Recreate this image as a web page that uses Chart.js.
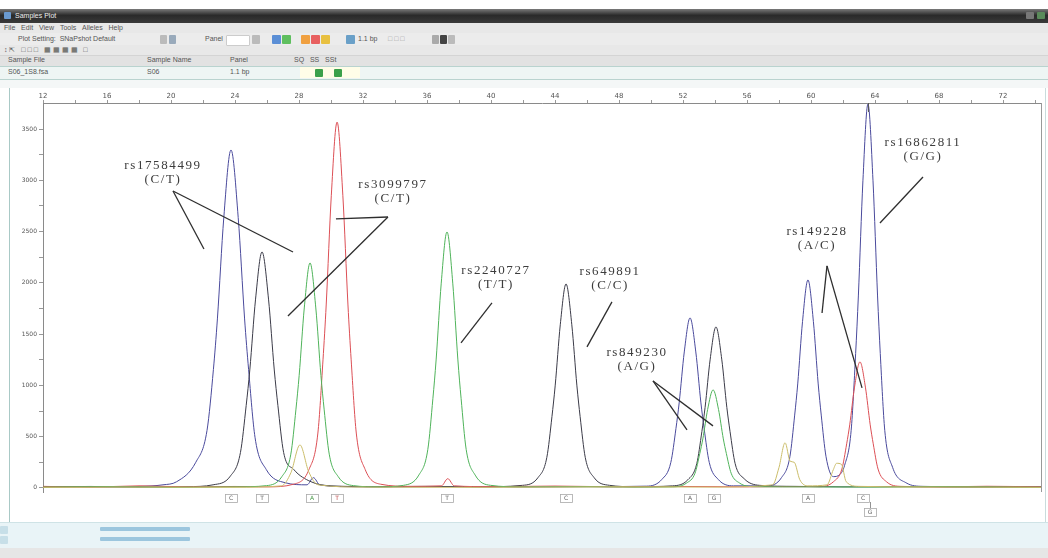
<!DOCTYPE html>
<html>
<head>
<meta charset="utf-8">
<script src="https://cdn.jsdelivr.net/npm/chart.js@4.4.1/dist/chart.umd.min.js"></script>
<style>
  body { margin:0; width:1048px; height:558px; overflow:hidden; background:#fff; font-family:"Liberation Sans", Arial, sans-serif; position:relative; }
  .bar { position:absolute; left:0; width:1048px; }
  .t { position:absolute; font-size:7px; color:#555; white-space:nowrap; }
  .btn { position:absolute; height:9px; border-radius:1px; }
</style>
</head>
<body>
<!-- title bar -->
<div class="bar" style="top:9px;height:14px;background:linear-gradient(#7a7a7a,#2a2a2a 45%,#3a3a3a);"></div>
<div class="btn" style="left:4px;top:12px;width:7px;height:7px;background:#6a9ad0;"></div>
<div class="t" style="left:15px;top:12px;color:#eee;">Samples Plot</div>
<div class="btn" style="left:1026px;top:12px;width:8px;height:7px;background:#777;"></div>
<div class="btn" style="left:1037px;top:12px;width:8px;height:7px;background:#5a8a5a;"></div>
<!-- menu + toolbars -->
<div class="bar" style="top:23px;height:57px;background:#e8e8e8;"></div>
<div class="t" style="left:4px;top:24px;">File&nbsp;&nbsp;&nbsp;Edit&nbsp;&nbsp;&nbsp;View&nbsp;&nbsp;&nbsp;Tools&nbsp;&nbsp;&nbsp;Alleles&nbsp;&nbsp;&nbsp;Help</div>
<div class="bar" style="top:33px;height:12px;background:#ececec;"></div>
<div class="t" style="left:18px;top:35px;">Plot Setting:&nbsp;&nbsp;SNaPshot Default</div>
<div class="btn" style="left:160px;top:35px;width:7px;background:#bbb;"></div>
<div class="btn" style="left:169px;top:35px;width:7px;background:#9ab;"></div>
<div class="t" style="left:205px;top:35px;">Panel</div>
<div class="btn" style="left:226px;top:35px;width:22px;background:#fff;border:1px solid #ccc;"></div>
<div class="btn" style="left:252px;top:35px;width:8px;background:#bbb;"></div>
<div class="btn" style="left:272px;top:35px;width:9px;background:#5b8fd6;"></div>
<div class="btn" style="left:282px;top:35px;width:9px;background:#5fbf5f;"></div>
<div class="btn" style="left:301px;top:35px;width:9px;background:#f0a040;"></div>
<div class="btn" style="left:311px;top:35px;width:9px;background:#e86060;"></div>
<div class="btn" style="left:321px;top:35px;width:9px;background:#e8c040;"></div>
<div class="btn" style="left:346px;top:35px;width:9px;background:#6aa0c8;"></div>
<div class="t" style="left:358px;top:35px;">1.1 bp</div>
<div class="t" style="left:388px;top:35px;color:#999;">&#9633; &#9633; &#9633;</div>
<div class="btn" style="left:432px;top:35px;width:7px;background:#aaa;"></div>
<div class="btn" style="left:440px;top:35px;width:7px;background:#444;"></div>
<div class="btn" style="left:448px;top:35px;width:7px;background:#bbb;"></div>
<div class="t" style="left:4px;top:46px;">&#8597; &#8689;&nbsp;&nbsp;&nbsp;&#9633; &#9633; &#9633;&nbsp;&nbsp;&nbsp;&#9638; &#9638; &#9638; &#9638;&nbsp;&nbsp;&nbsp;&#9633;</div>
<div class="bar" style="top:55px;height:10px;background:#e2e2e2;border-top:1px solid #d4d4d4;"></div>
<div class="t" style="left:8px;top:56px;">Sample File</div>
<div class="t" style="left:147px;top:56px;">Sample Name</div>
<div class="t" style="left:230px;top:56px;">Panel</div>
<div class="t" style="left:294px;top:56px;">SQ&nbsp;&nbsp;&nbsp;SS&nbsp;&nbsp;&nbsp;SSt</div>
<div style="position:absolute;left:0;top:66px;width:1048px;height:12px;background:#eef5f4;border-top:1px solid #b9d3cf;border-bottom:1px solid #b9d3cf;"></div>
<div style="position:absolute;left:300px;top:67px;width:60px;height:11px;background:#fffde8;"></div>
<div class="t" style="left:8px;top:68px;">S06_1S8.fsa</div>
<div class="t" style="left:147px;top:68px;">S06</div>
<div class="t" style="left:230px;top:68px;">1.1 bp</div>
<div class="btn" style="left:315px;top:69px;width:8px;height:8px;background:#3aa04a;"></div>
<div class="btn" style="left:334px;top:69px;width:8px;height:8px;background:#3aa04a;"></div>
<div class="bar" style="top:80px;height:8px;background:#f4f7f7;"></div>
<!-- plot panel borders -->
<div style="position:absolute;left:9px;top:88px;width:1px;height:434px;background:#a9c9c6;"></div>
<div style="position:absolute;left:1045px;top:88px;width:1px;height:434px;background:#c9dcdc;"></div>
<!-- bottom scroll bars -->
<div class="bar" style="top:522px;height:26px;background:#e9f4f7;border-top:1px solid #cfe3e6;"></div>
<div class="btn" style="left:0px;top:526px;width:8px;height:8px;background:#c7dfe8;"></div>
<div class="btn" style="left:0px;top:536px;width:8px;height:8px;background:#c7dfe8;"></div>
<div class="btn" style="left:100px;top:527px;width:90px;height:4px;background:#9cc6de;"></div>
<div class="btn" style="left:100px;top:537px;width:90px;height:4px;background:#9cc6de;"></div>
<div class="bar" style="top:548px;height:10px;background:#e6e6e6;"></div>

<canvas id="plot" width="1048" height="440" style="position:absolute;left:0;top:80px;"></canvas>

<script>
// eixo x em pb, eixo y em RFU
const xTickValues = [12,14,16,18,20,22,24,26,28,30,32,34,36,38,40,42,44,46,48,50,52,54,56,58,60,62,64,66,68,70,72,74];
const xTickLabels = [12,16,20,24,28,32,36,40,44,48,52,56,60,64,68,72];
const yTickValues = [0,250,500,750,1000,1250,1500,1750,2000,2250,2500,2750,3000,3250,3500];
const yTickLabels = [0,500,1000,1500,2000,2500,3000,3500];

const blueTrace = [[12,6],[14,10],[16,8],[18,14],[19.5,30],[20.35,60],[21.55,250],[22.25,560],[22.65,1154],[22.9,1648],[23.3,2637],[23.75,3296],[24.2,2637],[24.6,1648],[24.85,1154],[25.25,494],[25.95,180],[27.15,50],[28.5,30],[28.9,100],[29.3,30],[31,12],[34,10],[38,14],[42,9],[46,12],[49.72,17],[50.68,83],[51.24,249],[51.56,580],[51.76,829],[52.08,1326],[52.44,1658],[52.8,1326],[53.12,829],[53.32,580],[53.64,249],[54.2,83],[55.16,20],[57.26,20],[58.16,101],[58.68,304],[58.98,710],[59.17,1014],[59.47,1622],[59.81,2028],[60.15,1622],[60.45,1014],[60.64,710],[60.94,304],[61.4,110],[61.8,130],[62.1,220],[62.51,562],[62.79,1310],[62.96,1872],[63.245,2995],[63.56,3744],[63.875,2995],[64.16,1872],[64.33,1310],[64.61,562],[65.1,200],[65.94,50],[67,15],[70,10],[74.4,8]];
const blackTrace = [[12,10],[15,14],[18,8],[21,12],[22.63,30],[23.71,115],[24.34,345],[24.7,805],[24.925,1150],[25.285,1841],[25.69,2301],[26.095,1841],[26.455,1150],[26.68,805],[27.04,345],[27.67,180],[28.75,60],[30,20],[33,12],[36,15],[39,10],[41.97,25],[42.93,99],[43.49,298],[43.81,696],[44.01,995],[44.33,1591],[44.69,1989],[45.05,1591],[45.37,995],[45.57,696],[45.89,298],[46.45,99],[47.41,25],[49,12],[51.34,20],[52.3,79],[52.86,236],[53.18,550],[53.38,785],[53.7,1256],[54.06,1570],[54.42,1256],[54.74,785],[54.94,550],[55.26,236],[55.82,90],[56.78,25],[59,15],[62,10],[66,12],[70,8],[74.4,10]];
const greenTrace = [[12,8],[16,12],[20,6],[24,10],[25.97,22],[26.93,110],[27.49,329],[27.81,768],[28.01,1097],[28.33,1755],[28.69,2194],[29.05,1755],[29.37,1097],[29.57,768],[29.89,329],[30.45,110],[31.41,22],[33,10],[34.53,25],[35.49,125],[36.05,374],[36.37,874],[36.57,1248],[36.89,1997],[37.25,2496],[37.61,1997],[37.93,1248],[38.13,874],[38.45,374],[39.01,125],[39.97,25],[42,10],[46,12],[49,8],[51.33,10],[52.23,48],[52.75,143],[53.05,335],[53.24,478],[53.54,765],[53.88,956],[54.22,765],[54.52,478],[54.71,335],[55.01,143],[55.53,48],[56.43,12],[60,10],[64,8],[68,12],[74.4,6]];
const redTrace = [[12,15],[15,8],[18,20],[21,10],[24,14],[26,10],[27.66,36],[28.62,178],[29.18,535],[29.5,1249],[29.7,1784],[30.02,2854],[30.38,3568],[30.74,2854],[31.06,1784],[31.26,1249],[31.58,535],[32.14,178],[33.1,36],[35,15],[36.9,20],[37.3,90],[37.7,20],[40,12],[44,18],[48,10],[52,14],[56,10],[58,12],[60.51,12],[61.41,61],[61.93,184],[62.23,430],[62.42,615],[62.72,983],[63.06,1229],[63.4,983],[63.7,615],[63.89,430],[64.19,184],[64.71,61],[65.61,15],[68,10],[71,16],[74.4,10]];
const orangeTrace = [[12,5],[18,8],[24,6],[26.9,20],[27.5,150],[28.06,419],[28.6,160],[29.2,30],[32,8],[40,6],[48,10],[54,8],[57.6,30],[58.0,200],[58.38,440],[58.7,260],[58.95,250],[59.3,80],[59.8,20],[61.0,30],[61.4,180],[61.6,240],[61.9,230],[62.2,60],[63,15],[68,8],[74.4,5]];

// anotações dos SNPs
const snpNames = ['rs17584499','rs3099797','rs2240727','rs649891','rs849230','rs149228','rs16862811'];
const snpGenotypes = ['(C/T)','(C/T)','(T/T)','(C/C)','(A/G)','(A/C)','(G/G)'];
const snpTextAt = [[19.5,3140],[33.875,2954],[40.31,2116],[47.44,2106],[49.125,1316],[60.375,2496],[67,3364]];
const snpLeaders = [
  [[[20.125,2896],[22.06,2330]], [[20.125,2896],[27.625,2301]]],
  [[[33.56,2642],[30.31,2623]], [[33.56,2642],[27.31,1677]]],
  [[[40.06,1804],[38.125,1414]]],
  [[[47.56,1814],[46,1375]]],
  [[[50.125,1043],[52.25,566]], [[50.125,1043],[53.875,605]]],
  [[[61,2165],[60.69,1706]], [[61,2165],[63.19,975]]],
  [[[67,3032],[64.31,2584]]]
];

// rótulos dos alelos embaixo da linha de base
const alleleX = [23.75,25.69,28.81,30.38,37.25,44.69,52.44,53.94,59.81,63.25];
const alleleText = ['C','T','A','T','T','C','A','G','A','C'];
const alleleColor = ['#666','#666','#4a9a4a','#c05050','#666','#666','#666','#666','#666','#666'];
const extraAlleleX = 63.69;
const extraAlleleText = 'G';

const toPts = arr => arr.map(p => ({x: p[0], y: p[1]}));

const anotacoes = {
  id: 'anotacoes',
  afterDatasetsDraw(chart) {
    const ctx = chart.ctx, xs = chart.scales.x, ys = chart.scales.y, area = chart.chartArea;
    ctx.save();
    // borda direita do painel
    ctx.strokeStyle = '#999'; ctx.lineWidth = 1;
    ctx.beginPath(); ctx.moveTo(area.right + 0.5, area.top); ctx.lineTo(area.right + 0.5, area.bottom); ctx.stroke();
    // marcador no topo
    ctx.strokeStyle = '#555';
    let mx = Math.round(xs.getPixelForValue(63.56)) + 0.5;
    ctx.beginPath(); ctx.moveTo(mx, area.top); ctx.lineTo(mx, area.top + 9); ctx.stroke();

    // linhas guia
    ctx.strokeStyle = '#2e2e2e'; ctx.lineWidth = 1.3;
    snpLeaders.forEach(segs => segs.forEach(s => {
      ctx.beginPath();
      ctx.moveTo(xs.getPixelForValue(s[0][0]), ys.getPixelForValue(s[0][1]));
      ctx.lineTo(xs.getPixelForValue(s[1][0]), ys.getPixelForValue(s[1][1]));
      ctx.stroke();
    }));
    // textos
    ctx.fillStyle = '#3c3c3c';
    ctx.font = '13px "Liberation Serif", serif';
    ctx.letterSpacing = '1.6px';
    ctx.textAlign = 'center'; ctx.textBaseline = 'middle';
    snpNames.forEach((n, i) => {
      const px = xs.getPixelForValue(snpTextAt[i][0]);
      const py = ys.getPixelForValue(snpTextAt[i][1]);
      ctx.fillText(n, px, py);
      ctx.fillText(snpGenotypes[i], px, py + 14);
    });
    ctx.letterSpacing = '0px';

    // caixinhas dos alelos
    ctx.font = '6px "DejaVu Sans", sans-serif';
    ctx.lineWidth = 0.8;
    const by = area.bottom + 2;
    alleleX.forEach((v, i) => {
      const px = xs.getPixelForValue(v);
      ctx.strokeStyle = '#aaa';
      ctx.strokeRect(Math.round(px - 6) + 0.5, by + 0.5, 12, 8);
      ctx.fillStyle = alleleColor[i];
      ctx.fillText(alleleText[i], px, by + 4.5);
    });
    const ex = xs.getPixelForValue(extraAlleleX);
    ctx.strokeStyle = '#777';
    ctx.beginPath(); ctx.moveTo(Math.round(ex) + 0.5, by + 8); ctx.lineTo(Math.round(ex) + 0.5, by + 14); ctx.stroke();
    ctx.strokeStyle = '#aaa';
    ctx.strokeRect(Math.round(ex - 6) + 0.5, by + 14.5, 12, 8);
    ctx.fillStyle = '#666';
    ctx.fillText(extraAlleleText, ex, by + 18.5);
    ctx.restore();
  }
};

function traco(label, arr, cor) {
  return {
    label: label,
    data: toPts(arr),
    borderColor: cor,
    borderWidth: 1,
    pointRadius: 0,
    fill: false,
    cubicInterpolationMode: 'monotone'
  };
}

new Chart(document.getElementById('plot'), {
  type: 'line',
  data: {
    datasets: [
      traco('laranja', orangeTrace, '#cbbd6a'),
      traco('verde', greenTrace, '#4fb35a'),
      traco('vermelho', redTrace, '#dc4f55'),
      traco('preto', blackTrace, '#3b3b48'),
      traco('azul', blueTrace, '#4a4a9c')
    ]
  },
  options: {
    responsive: false,
    devicePixelRatio: 1,
    animation: false,
    layout: { padding: { top: 0, left: 0, right: 7, bottom: 28 } },
    plugins: { legend: { display: false }, tooltip: { enabled: false } },
    scales: {
      x: {
        type: 'linear', position: 'top', min: 12, max: 74.375,
        afterBuildTicks: s => { s.ticks = xTickValues.map(v => ({value: v})); },
        afterFit: s => { s.height = 23; },
        grid: { drawOnChartArea: false, tickLength: 3, color: '#999' },
        border: { color: '#8a8a8a' },
        ticks: {
          padding: 0, autoSkip: false, maxRotation: 0, color: '#555',
          font: { size: 7, family: 'DejaVu Sans' },
          callback: v => xTickLabels.includes(v) ? String(v) : ''
        }
      },
      y: {
        type: 'linear', min: -40, max: 3754,
        afterBuildTicks: s => { s.ticks = yTickValues.map(v => ({value: v})); },
        afterFit: s => { s.width = 43; },
        grid: { drawOnChartArea: false, tickLength: 4, color: '#999' },
        border: { color: '#8a8a8a' },
        ticks: {
          padding: 2, autoSkip: false, color: '#555',
          font: { size: 6, family: 'DejaVu Sans' },
          callback: v => yTickLabels.includes(v) ? String(v) : ''
        }
      }
    }
  },
  plugins: [anotacoes]
});
</script>
</body>
</html>
